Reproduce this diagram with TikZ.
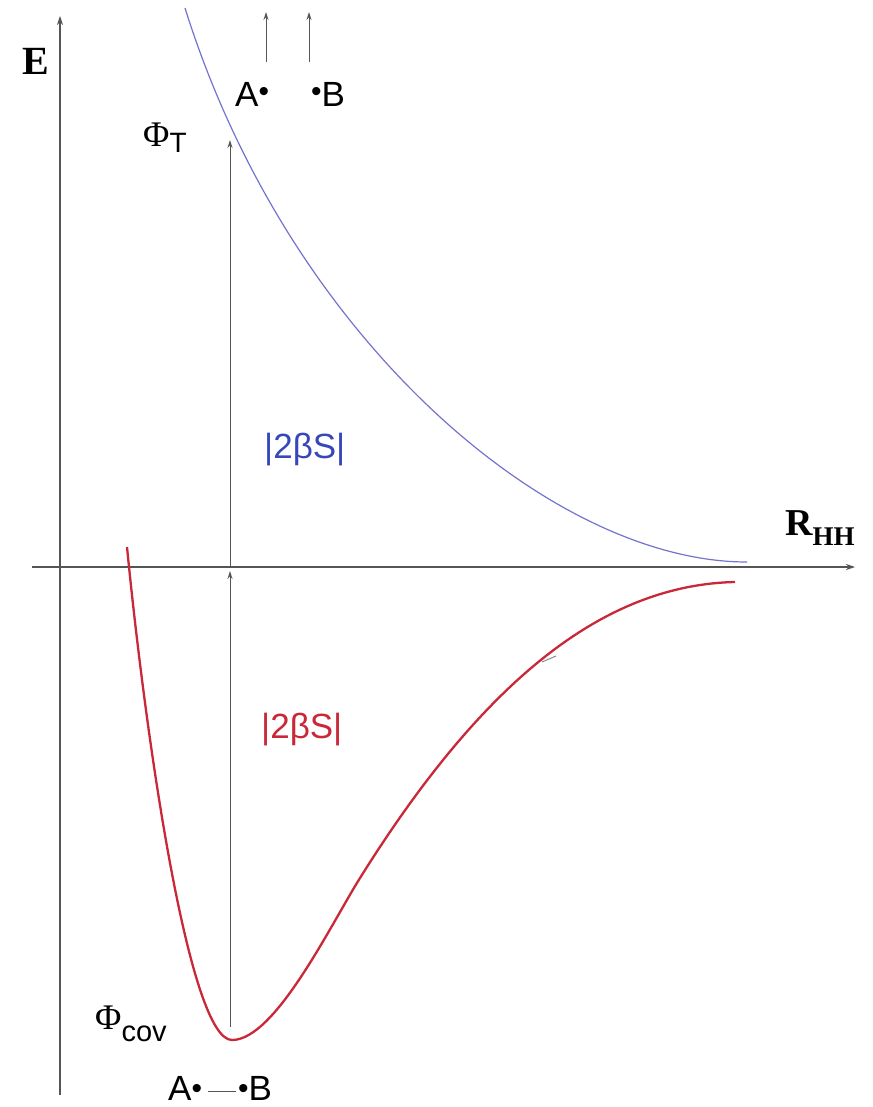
\documentclass[tikz,border=0pt]{standalone}
\usepackage{fontspec}
\setmainfont{Liberation Serif}
\setsansfont{Liberation Sans}
\usetikzlibrary{arrows.meta}
\definecolor{ax}{RGB}{85,85,85}
\definecolor{bc}{RGB}{115,115,205}
\definecolor{bt}{RGB}{55,70,185}
\definecolor{rc}{RGB}{200,40,55}
\newcommand\adot[1][5.5pt]{\raisebox{#1}{\fontsize{30}{30}\selectfont•}}
\tikzset{axis/.style={draw=ax,line width=1.1pt,-{Stealth[length=9pt,width=6pt]}},
 vec/.style={draw=ax,line width=1pt,-{Stealth[length=8pt,width=5pt]}},
 lab/.style={inner sep=0pt,anchor=base west,font=\sffamily\fontsize{35}{35}\selectfont},
 sym/.style={inner sep=0pt,anchor=base west,font=\fontsize{36}{36}\selectfont},
 bold/.style={inner sep=0pt},
 gap/.style={inner sep=0pt,anchor=base west,font=\sffamily\fontsize{35}{35}\selectfont}}
\begin{document}
\begin{tikzpicture}[x=1pt,y=-1pt]
\useasboundingbox (0,0) rectangle (872,1107);
% axes
\coordinate (o) at (60,567);
\coordinate (ybot) at (60,1095);\coordinate (ytop) at (60,16);
\coordinate (xl) at (32,567);\coordinate (xr) at (855,567);
\draw[axis] (ybot)--(ytop);\draw[axis] (xl)--(xr);
\node[bold,font=\bfseries\fontsize{40}{40}\selectfont,anchor=base west] (e) at (22,75) {E};
\node[bold,anchor=base west,font=\bfseries\fontsize{38}{38}\selectfont] (rhh) at (785,535)
 {R\raisebox{-10pt}{\fontsize{27}{27}\selectfont HH}};
% curves
\draw[bc,line width=1.2pt] (185,8) .. controls (289,340) and (552,562) .. (747,562);
\draw[rc,line width=2.3pt] (127,547) .. controls (147,750) and (190,1040) .. (232,1040)
 .. controls (275,1040) and (330,926) .. (360,878)
 .. controls (480,686) and (600,585) .. (735,582);
\draw[ax!70,line width=1pt] (542,662)--(556,656);
% splitting
\coordinate (cov) at (230,1027);\coordinate (mid) at (230,567);\coordinate (trip) at (230,140);
\draw[vec] (cov)--(230,571);\draw[vec] (mid)--(trip);
\node[sym] (phit) at (143,147) {Φ\raisebox{-6pt}{\sffamily\fontsize{28}{28}\selectfont T}};
\node[sym] (phic) at (95,1029) {Φ\raisebox{-12pt}{\sffamily\fontsize{29}{29}\selectfont cov}};
\node[gap,text=bt] (bgap) at (264,458) {|2βS|};
\node[gap,text=rc] (rgap) at (261,738) {|2βS|};
% atoms
\node[lab] (a) at (235,107) {A\adot};
\node[lab] (b) at (311,107) {\adot B};
\coordinate (a0) at (266,62);\coordinate (a1) at (266,12);
\coordinate (b0) at (309,62);\coordinate (b1) at (309,12);
\draw[vec] (a0)--(a1);\draw[vec] (b0)--(b1);
\node[lab] (ab) at (168,1100)
 {A\adot[1.5pt]\hspace{6pt}\textcolor{ax}{\rule[8.5pt]{28pt}{1pt}}\hspace{2pt}\adot[1.5pt]B};
\end{tikzpicture}
\end{document}
